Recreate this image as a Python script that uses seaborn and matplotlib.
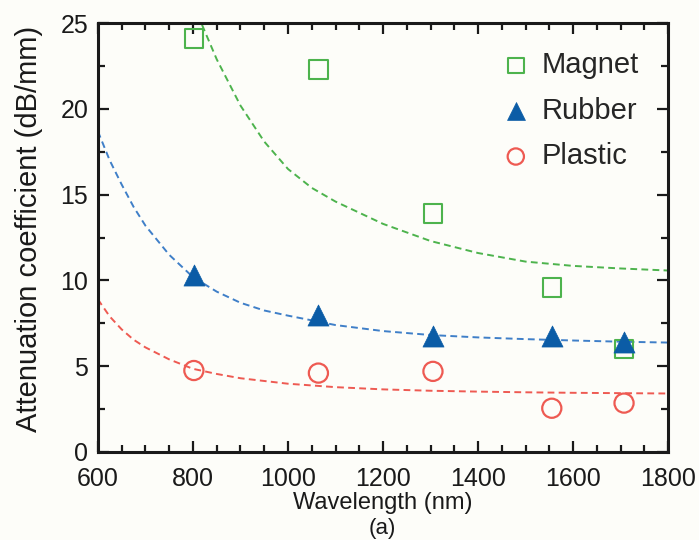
import matplotlib
matplotlib.use("Agg")
import matplotlib.pyplot as plt
import seaborn as sns
import pandas as pd
from matplotlib.ticker import MultipleLocator

# measured points
wavelength = [802, 1064, 1305, 1555, 1707]
magnet = [24.1, 22.3, 13.9, 9.6, 6.0]
rubber = [10.3, 8.0, 6.75, 6.75, 6.4]
plastic = [4.75, 4.6, 4.7, 2.55, 2.85]

# dashed fit curves
magnet_fit_x = [810, 850, 900, 950, 1000, 1050, 1100, 1200, 1300, 1400, 1500, 1600, 1700, 1800]
magnet_fit_y = [25.5, 22.9, 20.2, 18.1, 16.5, 15.4, 14.6, 13.3, 12.3, 11.6, 11.1, 10.85, 10.7, 10.58]
rubber_fit_x = [600, 625, 650, 675, 700, 750, 800, 850, 900, 950, 1000, 1100, 1200, 1300, 1400, 1500, 1600, 1700, 1800]
rubber_fit_y = [18.7, 17.0, 15.6, 14.3, 13.2, 11.5, 10.2, 9.35, 8.7, 8.25, 7.95, 7.4, 7.05, 6.82, 6.68, 6.58, 6.5, 6.43, 6.38]
plastic_fit_x = [600, 625, 650, 675, 700, 750, 800, 850, 900, 1000, 1100, 1200, 1300, 1400, 1500, 1600, 1700, 1800]
plastic_fit_y = [8.9, 7.9, 7.15, 6.55, 6.1, 5.4, 4.85, 4.55, 4.3, 3.98, 3.78, 3.65, 3.57, 3.52, 3.48, 3.45, 3.43, 3.41]

sns.set_style("ticks")
plt.rcParams['font.family'] = ['Liberation Sans', 'DejaVu Sans']

green = '#4db34d'
blue_pt = '#0b5ca6'
blue_ln = '#3f7fc8'
red = '#ee5a52'
ink = '#1a1a1a'
bg = '#fdfdf9'

fig = plt.figure(figsize=(6.99, 5.40), dpi=100, facecolor=bg)
ax = fig.add_axes([0.140, 0.163, 0.816, 0.794])
ax.set_facecolor(bg)

fits = [
    (magnet_fit_x, magnet_fit_y, green),
    (rubber_fit_x, rubber_fit_y, blue_ln),
    (plastic_fit_x, plastic_fit_y, red),
]
for fx, fy, c in fits:
    sns.lineplot(x=fx, y=fy, ax=ax, color=c, lw=1.4, linestyle=(0, (3.5, 2.2)),
                 sort=False, estimator=None)

sns.scatterplot(x=wavelength, y=magnet, ax=ax, marker='s', s=175,
                facecolor='none', edgecolor=green, linewidth=1.5, label='Magnet', zorder=3)
sns.scatterplot(x=wavelength, y=rubber, ax=ax, marker='^', s=230,
                color=blue_pt, edgecolor=blue_pt, linewidth=0.5, label='Rubber', zorder=3)
sns.scatterplot(x=wavelength, y=plastic, ax=ax, marker='o', s=190,
                facecolor='none', edgecolor=red, linewidth=1.6, label='Plastic', zorder=3)

ax.set_xlim(600, 1800)
ax.set_ylim(0, 25)
ax.xaxis.set_major_locator(MultipleLocator(200))
ax.xaxis.set_minor_locator(MultipleLocator(50))
ax.yaxis.set_major_locator(MultipleLocator(5))
ax.yaxis.set_minor_locator(MultipleLocator(2.5))
ax.tick_params(which='both', direction='in', top=True, right=True, width=1.6,
               labelsize=18, colors=ink)
ax.tick_params(axis='x', which='major', pad=11)
ax.tick_params(axis='y', which='major', pad=7)
ax.tick_params(which='major', length=8)
ax.tick_params(which='minor', length=5)
for s in ax.spines.values():
    s.set_linewidth(2.2)
    s.set_color(ink)

ax.set_xlabel('Wavelength (nm)', fontsize=17, color=ink)
ax.xaxis.set_label_coords(0.5, -0.093)
ax.set_ylabel('Attenuation coefficient (dB/mm)', fontsize=21, color=ink)
ax.yaxis.set_label_coords(-0.097, 0.52)
fig.text(0.547, 0.022, '(a)', ha='center', va='center', fontsize=16, color=ink)

ax.legend(loc='upper left', bbox_to_anchor=(0.688, 0.962), frameon=False, fontsize=21,
          handlelength=0.95, handletextpad=0.4, labelspacing=0.6, borderaxespad=0,
          markerscale=0.85)

fig.savefig('out.png', dpi=100, facecolor=bg)
